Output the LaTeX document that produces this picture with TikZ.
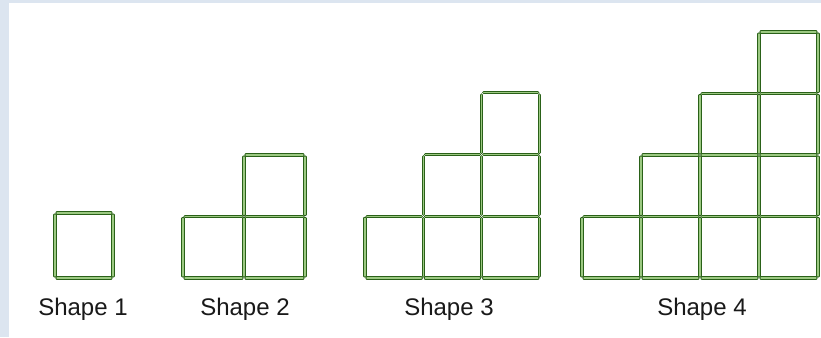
\documentclass[tikz,border=0pt]{standalone}
\usepackage{fontspec}
\setmainfont{Liberation Sans}
\definecolor{bgblue}{HTML}{DCE5F0}
\definecolor{stickdark}{HTML}{2A6118}
\definecolor{sticklight}{HTML}{9CC982}
\tikzset{
  stick/.style={draw=stickdark, line width=1pt, double=sticklight, double distance=1.1pt,
    line cap=round, shorten <=2pt, shorten >=2pt},
  lbl/.style={font=\fontsize{24}{28}\selectfont, text=black!90, inner sep=0pt}
}
% #1 = n, #2 = x0, #3 = y0 (bottom), #4 = w, #5 = h
\newcommand\stairsdraw[5]{%
  \foreach \i in {1,...,#1}{%
    \foreach \j in {0,...,\i}{%
      \draw[stick] ({#2+(\i-1)*#4},{#3-\j*#5}) -- ({#2+\i*#4},{#3-\j*#5});
    }%
  }%
  \foreach \k in {0,...,#1}{%
    \pgfmathtruncatemacro\mtop{\k<#1 ? \k+1 : #1}%
    \foreach \j in {1,...,\mtop}{%
      \draw[stick] ({#2+\k*#4},{#3-(\j-1)*#5}) -- ({#2+\k*#4},{#3-\j*#5});
    }%
  }%
}
\begin{document}
\begin{tikzpicture}[x=1pt,y=-1pt]
\useasboundingbox (0,0) rectangle (821,337);
\fill[bgblue] (0,0) rectangle (821,337);
\fill[white] (9,3) rectangle (821,337);
\stairsdraw{1}{55}{278}{58}{65}
\stairsdraw{2}{183}{278}{61}{61.5}
\stairsdraw{3}{365}{278}{58.3}{61.7}
\stairsdraw{4}{582}{278}{59}{61.5}
\node[lbl] (l1) at (83,309) {Shape 1};
\node[lbl] (l2) at (245,309) {Shape 2};
\node[lbl] (l3) at (449,309) {Shape 3};
\node[lbl] (l4) at (702,309) {Shape 4};
\end{tikzpicture}
\end{document}
